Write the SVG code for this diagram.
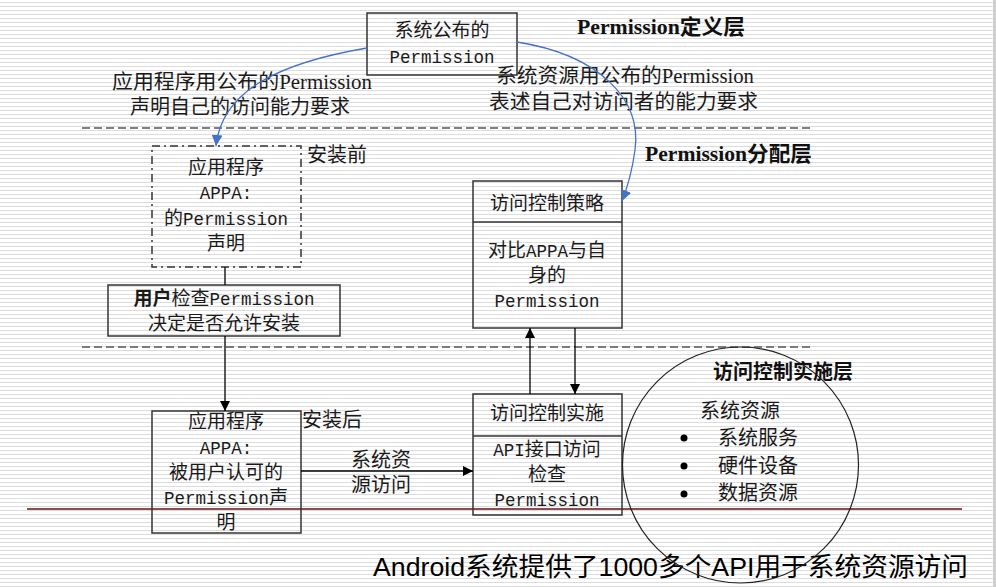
<svg xmlns="http://www.w3.org/2000/svg" width="996" height="587" viewBox="0 0 996 587">
<defs>
<pattern id="stripes" x="0" y="2" width="8" height="4" patternUnits="userSpaceOnUse">
<rect x="0" y="0" width="8" height="1" fill="#dcdcdc"/>
</pattern>
<marker id="ab" viewBox="0 0 10 10" refX="10" refY="5" markerWidth="10" markerHeight="10" markerUnits="userSpaceOnUse" orient="auto">
<path d="M0,0 L10,5 L0,10 z" fill="#000"/>
</marker>
<marker id="abl" viewBox="0 0 10 10" refX="10" refY="5" markerWidth="11" markerHeight="11" markerUnits="userSpaceOnUse" orient="auto">
<path d="M0,0 L10,5 L0,10 z" fill="#4472c4"/>
</marker>
</defs>
<style>
.t{font-family:"Liberation Mono","Noto Sans CJK SC",monospace;font-size:19px;fill:#1a1a1a;text-anchor:middle}
.m{font-size:17.5px}
.s{font-family:"Liberation Serif","Noto Sans CJK SC",serif;font-size:20px;fill:#1a1a1a}
.h{font-family:"Liberation Serif","Noto Sans CJK SC",serif;font-size:21px;font-weight:bold;fill:#111}
.foot{font-family:"Liberation Sans","Noto Sans CJK SC",sans-serif;font-size:26px;fill:#000}
.box{fill:none;stroke:#333;stroke-width:1.5}
.dash{stroke:#555;stroke-width:1.5;stroke-dasharray:8,4;fill:none}
.ln{stroke:#000;stroke-width:1.3;fill:none}
.blue{stroke:#4472c4;stroke-width:1.3;fill:none}
</style>
<rect width="996" height="587" fill="#fff"/>
<rect width="996" height="587" fill="url(#stripes)"/>
<rect x="993" y="0" width="3" height="587" fill="#cfcfcf"/>

<g id="layers">
<line class="dash" x1="82" y1="128" x2="810" y2="128"/>
<line class="dash" x1="82" y1="347" x2="810" y2="347"/>
<line x1="27" y1="509" x2="962" y2="509" stroke="#6a1010" stroke-width="1.5"/>
<text class="h" x="577" y="34" textLength="168" lengthAdjust="spacingAndGlyphs">Permission定义层</text>
<text class="h" x="645" y="161" textLength="167" lengthAdjust="spacingAndGlyphs">Permission分配层</text>
</g>

<g id="labels">
<text class="s" x="112" y="89" textLength="260" lengthAdjust="spacingAndGlyphs">应用程序用公布的Permission</text>
<text class="s" x="240" y="114" text-anchor="middle">声明自己的访问能力要求</text>
<text class="s" x="496" y="83" textLength="258" lengthAdjust="spacingAndGlyphs">系统资源用公布的Permission</text>
<text class="s" x="489" y="109" textLength="269" lengthAdjust="spacingAndGlyphs">表述自己对访问者的能力要求</text>
<text class="s" x="307" y="162">安装前</text>
<text class="s" x="302" y="427">安装后</text>
<text class="foot" x="373" y="576" textLength="595" lengthAdjust="spacingAndGlyphs">Android系统提供了1000多个API用于系统资源访问</text>
</g>

<g id="n-published">
<rect class="box" x="367" y="13" width="150" height="62"/>
<text class="t" x="442" y="37">系统公布的</text>
<text class="t m" x="442" y="63">Permission</text>
</g>

<g id="n-appa-before">
<rect class="box" x="152" y="146" width="149" height="121" stroke-dasharray="8,4,2,4" stroke="#444"/>
<text class="t" x="226" y="174">应用程序</text>
<text class="t" x="226" y="199"><tspan class="m">APPA:</tspan></text>
<text class="t" x="226" y="225">的<tspan class="m">Permission</tspan></text>
<text class="t" x="226" y="250">声明</text>
</g>

<g id="n-user-check">
<rect class="box" x="108" y="285" width="232" height="51"/>
<text class="t" x="224" y="305"><tspan font-weight="bold">用户</tspan>检查<tspan class="m">Permission</tspan></text>
<text class="t" x="224" y="330">决定是否允许安装</text>
</g>

<g id="n-appa-after">
<rect class="box" x="152" y="411" width="149" height="122"/>
<text class="t" x="226" y="428">应用程序</text>
<text class="t" x="226" y="454"><tspan class="m">APPA:</tspan></text>
<text class="t" x="226" y="479">被用户认可的</text>
<text class="t" x="226" y="504"><tspan class="m">Permission</tspan>声</text>
<text class="t" x="226" y="529">明</text>
</g>

<g id="n-policy">
<rect class="box" x="473" y="181" width="149" height="147"/>
<line class="box" x1="473" y1="222" x2="622" y2="222"/>
<text class="t" x="547" y="210">访问控制策略</text>
<text class="t" x="547" y="257">对比<tspan class="m">APPA</tspan>与自</text>
<text class="t" x="547" y="282">身的</text>
<text class="t m" x="547" y="307">Permission</text>
</g>

<g id="n-enforce">
<rect class="box" x="473" y="394" width="149" height="121"/>
<line class="box" x1="473" y1="436" x2="622" y2="436"/>
<text class="t" x="547" y="420">访问控制实施</text>
<text class="t" x="547" y="456"><tspan class="m">API</tspan>接口访问</text>
<text class="t" x="547" y="481">检查</text>
<text class="t m" x="547" y="506">Permission</text>
</g>

<g id="n-resources">
<circle cx="740.5" cy="465" r="118" fill="none" stroke="#222" stroke-width="1.2"/>
<text class="h" x="713" y="379" style="font-size:20px">访问控制实施层</text>
<text class="s" x="700" y="418">系统资源</text>
<circle cx="684" cy="438" r="3.5" fill="#000"/>
<circle cx="684" cy="466" r="3.5" fill="#000"/>
<circle cx="684" cy="494" r="3.5" fill="#000"/>
<text class="s" x="718" y="445">系统服务</text>
<text class="s" x="718" y="473">硬件设备</text>
<text class="s" x="718" y="500">数据资源</text>
</g>

<g id="connectors">
<path class="blue" d="M367,48 C285,62 222,88 216,146" marker-end="url(#abl)"/>
<path class="blue" d="M517,42 C600,55 642,100 635,150 C632,172 628,186 622,201" marker-end="url(#abl)"/>
<line class="ln" x1="225" y1="267" x2="225" y2="285"/>
<line class="ln" x1="225" y1="336" x2="225" y2="411" marker-end="url(#ab)"/>
<line class="ln" x1="301" y1="471" x2="473" y2="471" marker-end="url(#ab)"/>
<text class="s" x="381" y="467" text-anchor="middle">系统资</text>
<text class="s" x="381" y="492" text-anchor="middle">源访问</text>
<line class="ln" x1="530" y1="394" x2="530" y2="328" marker-end="url(#ab)"/>
<line class="ln" x1="575" y1="328" x2="575" y2="394" marker-end="url(#ab)"/>
</g>
</svg>
